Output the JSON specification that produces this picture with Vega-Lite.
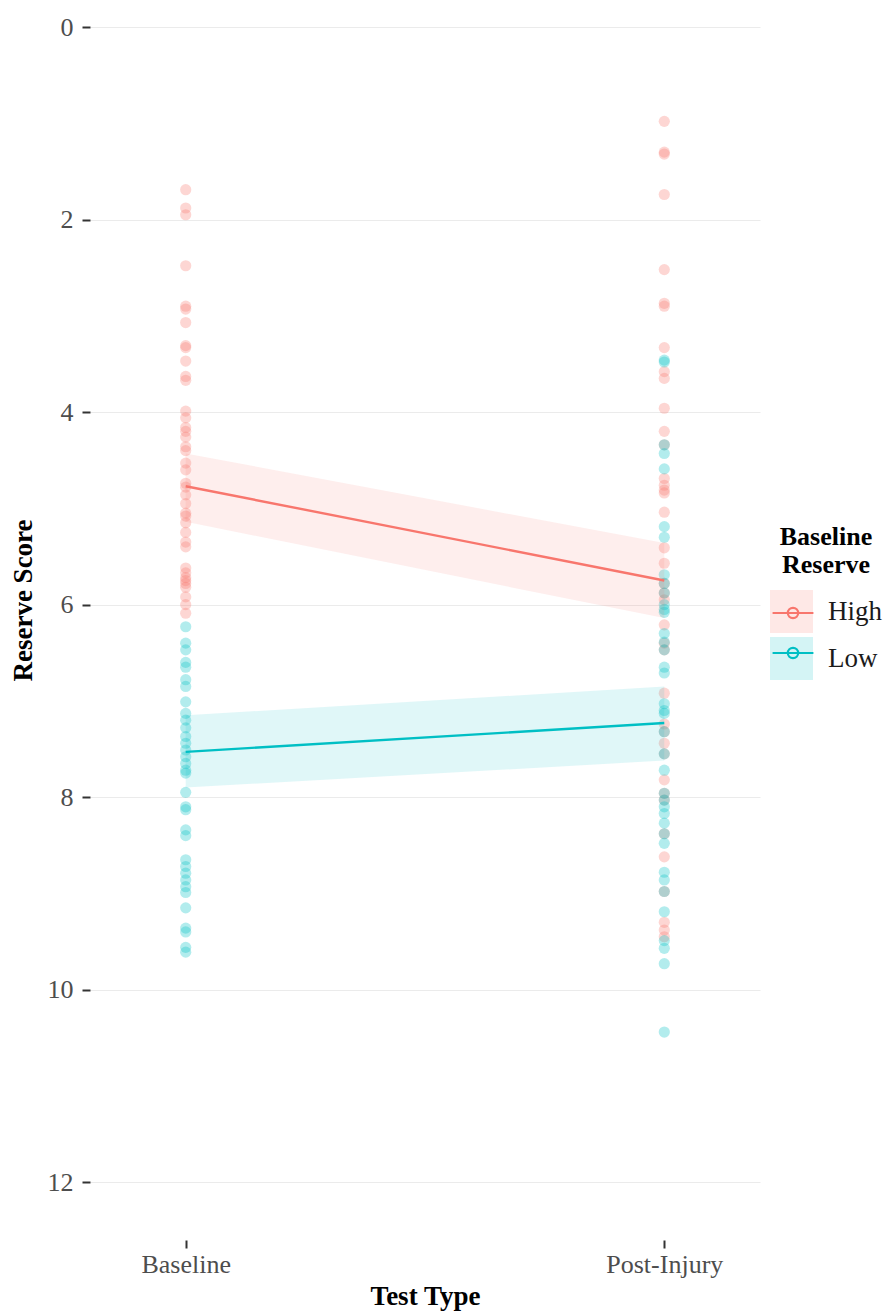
{
  "$schema": "https://vega.github.io/schema/vega-lite/v6.json",
  "width": 670,
  "height": 1213,
  "autosize": {"type": "none"},
  "padding": {"left": 90, "top": 27, "right": 128, "bottom": 75},
  "background": "white",
  "config": {
    "view": {"stroke": null},
    "font": "Liberation Serif",
    "axis": {"domain": false, "tickColor": "#333333", "tickWidth": 2, "tickSize": 8, "labelColor": "#4D4D4D", "labelFontSize": 26, "titleFontSize": 27, "titleFontWeight": "bold", "titleColor": "black", "gridColor": "#EBEBEB", "gridWidth": 1.2}
  },
  "datasets": {
    "pts": [
      {"test": "Baseline", "grp": "High", "score": 1.69},
      {"test": "Baseline", "grp": "High", "score": 1.88},
      {"test": "Baseline", "grp": "High", "score": 1.95},
      {"test": "Baseline", "grp": "High", "score": 2.48},
      {"test": "Baseline", "grp": "High", "score": 2.9},
      {"test": "Baseline", "grp": "High", "score": 2.93},
      {"test": "Baseline", "grp": "High", "score": 3.07},
      {"test": "Baseline", "grp": "High", "score": 3.31},
      {"test": "Baseline", "grp": "High", "score": 3.33},
      {"test": "Baseline", "grp": "High", "score": 3.47},
      {"test": "Baseline", "grp": "High", "score": 3.63},
      {"test": "Baseline", "grp": "High", "score": 3.67},
      {"test": "Baseline", "grp": "High", "score": 3.99},
      {"test": "Baseline", "grp": "High", "score": 4.06},
      {"test": "Baseline", "grp": "High", "score": 4.16},
      {"test": "Baseline", "grp": "High", "score": 4.2},
      {"test": "Baseline", "grp": "High", "score": 4.26},
      {"test": "Baseline", "grp": "High", "score": 4.36},
      {"test": "Baseline", "grp": "High", "score": 4.4},
      {"test": "Baseline", "grp": "High", "score": 4.53},
      {"test": "Baseline", "grp": "High", "score": 4.6},
      {"test": "Baseline", "grp": "High", "score": 4.74},
      {"test": "Baseline", "grp": "High", "score": 4.78},
      {"test": "Baseline", "grp": "High", "score": 4.86},
      {"test": "Baseline", "grp": "High", "score": 4.95},
      {"test": "Baseline", "grp": "High", "score": 5.05},
      {"test": "Baseline", "grp": "High", "score": 5.08},
      {"test": "Baseline", "grp": "High", "score": 5.15},
      {"test": "Baseline", "grp": "High", "score": 5.25},
      {"test": "Baseline", "grp": "High", "score": 5.35},
      {"test": "Baseline", "grp": "High", "score": 5.4},
      {"test": "Baseline", "grp": "High", "score": 5.62},
      {"test": "Baseline", "grp": "High", "score": 5.67},
      {"test": "Baseline", "grp": "High", "score": 5.72},
      {"test": "Baseline", "grp": "High", "score": 5.75},
      {"test": "Baseline", "grp": "High", "score": 5.78},
      {"test": "Baseline", "grp": "High", "score": 5.82},
      {"test": "Baseline", "grp": "High", "score": 5.92},
      {"test": "Baseline", "grp": "High", "score": 6.0},
      {"test": "Baseline", "grp": "High", "score": 6.09},
      {"test": "Baseline", "grp": "Low", "score": 6.23},
      {"test": "Baseline", "grp": "Low", "score": 6.4},
      {"test": "Baseline", "grp": "Low", "score": 6.47},
      {"test": "Baseline", "grp": "Low", "score": 6.6},
      {"test": "Baseline", "grp": "Low", "score": 6.65},
      {"test": "Baseline", "grp": "Low", "score": 6.78},
      {"test": "Baseline", "grp": "Low", "score": 6.85},
      {"test": "Baseline", "grp": "Low", "score": 7.01},
      {"test": "Baseline", "grp": "Low", "score": 7.13},
      {"test": "Baseline", "grp": "Low", "score": 7.2},
      {"test": "Baseline", "grp": "Low", "score": 7.28},
      {"test": "Baseline", "grp": "Low", "score": 7.37},
      {"test": "Baseline", "grp": "Low", "score": 7.44},
      {"test": "Baseline", "grp": "Low", "score": 7.51},
      {"test": "Baseline", "grp": "Low", "score": 7.58},
      {"test": "Baseline", "grp": "Low", "score": 7.65},
      {"test": "Baseline", "grp": "Low", "score": 7.72},
      {"test": "Baseline", "grp": "Low", "score": 7.75},
      {"test": "Baseline", "grp": "Low", "score": 7.95},
      {"test": "Baseline", "grp": "Low", "score": 8.1},
      {"test": "Baseline", "grp": "Low", "score": 8.13},
      {"test": "Baseline", "grp": "Low", "score": 8.34},
      {"test": "Baseline", "grp": "Low", "score": 8.4},
      {"test": "Baseline", "grp": "Low", "score": 8.65},
      {"test": "Baseline", "grp": "Low", "score": 8.72},
      {"test": "Baseline", "grp": "Low", "score": 8.79},
      {"test": "Baseline", "grp": "Low", "score": 8.86},
      {"test": "Baseline", "grp": "Low", "score": 8.93},
      {"test": "Baseline", "grp": "Low", "score": 8.99},
      {"test": "Baseline", "grp": "Low", "score": 9.15},
      {"test": "Baseline", "grp": "Low", "score": 9.36},
      {"test": "Baseline", "grp": "Low", "score": 9.4},
      {"test": "Baseline", "grp": "Low", "score": 9.56},
      {"test": "Baseline", "grp": "Low", "score": 9.61},
      {"test": "Post-Injury", "grp": "High", "score": 0.98},
      {"test": "Post-Injury", "grp": "High", "score": 1.3},
      {"test": "Post-Injury", "grp": "High", "score": 1.32},
      {"test": "Post-Injury", "grp": "High", "score": 1.74},
      {"test": "Post-Injury", "grp": "High", "score": 2.52},
      {"test": "Post-Injury", "grp": "High", "score": 2.87},
      {"test": "Post-Injury", "grp": "High", "score": 2.9},
      {"test": "Post-Injury", "grp": "High", "score": 3.33},
      {"test": "Post-Injury", "grp": "High", "score": 3.58},
      {"test": "Post-Injury", "grp": "High", "score": 3.65},
      {"test": "Post-Injury", "grp": "High", "score": 3.96},
      {"test": "Post-Injury", "grp": "High", "score": 4.2},
      {"test": "Post-Injury", "grp": "High", "score": 4.34},
      {"test": "Post-Injury", "grp": "High", "score": 4.69},
      {"test": "Post-Injury", "grp": "High", "score": 4.76},
      {"test": "Post-Injury", "grp": "High", "score": 4.81},
      {"test": "Post-Injury", "grp": "High", "score": 4.84},
      {"test": "Post-Injury", "grp": "High", "score": 5.04},
      {"test": "Post-Injury", "grp": "High", "score": 5.41},
      {"test": "Post-Injury", "grp": "High", "score": 5.57},
      {"test": "Post-Injury", "grp": "High", "score": 5.78},
      {"test": "Post-Injury", "grp": "High", "score": 5.88},
      {"test": "Post-Injury", "grp": "High", "score": 5.95},
      {"test": "Post-Injury", "grp": "High", "score": 6.21},
      {"test": "Post-Injury", "grp": "High", "score": 6.4},
      {"test": "Post-Injury", "grp": "High", "score": 6.47},
      {"test": "Post-Injury", "grp": "High", "score": 6.92},
      {"test": "Post-Injury", "grp": "High", "score": 7.24},
      {"test": "Post-Injury", "grp": "High", "score": 7.32},
      {"test": "Post-Injury", "grp": "High", "score": 7.44},
      {"test": "Post-Injury", "grp": "High", "score": 7.55},
      {"test": "Post-Injury", "grp": "High", "score": 7.82},
      {"test": "Post-Injury", "grp": "High", "score": 7.96},
      {"test": "Post-Injury", "grp": "High", "score": 8.03},
      {"test": "Post-Injury", "grp": "High", "score": 8.38},
      {"test": "Post-Injury", "grp": "High", "score": 8.62},
      {"test": "Post-Injury", "grp": "High", "score": 8.98},
      {"test": "Post-Injury", "grp": "High", "score": 9.3},
      {"test": "Post-Injury", "grp": "High", "score": 9.38},
      {"test": "Post-Injury", "grp": "High", "score": 9.45},
      {"test": "Post-Injury", "grp": "Low", "score": 3.46},
      {"test": "Post-Injury", "grp": "Low", "score": 3.48},
      {"test": "Post-Injury", "grp": "Low", "score": 4.34},
      {"test": "Post-Injury", "grp": "Low", "score": 4.43},
      {"test": "Post-Injury", "grp": "Low", "score": 4.59},
      {"test": "Post-Injury", "grp": "Low", "score": 5.19},
      {"test": "Post-Injury", "grp": "Low", "score": 5.3},
      {"test": "Post-Injury", "grp": "Low", "score": 5.69},
      {"test": "Post-Injury", "grp": "Low", "score": 5.78},
      {"test": "Post-Injury", "grp": "Low", "score": 5.88},
      {"test": "Post-Injury", "grp": "Low", "score": 6.0},
      {"test": "Post-Injury", "grp": "Low", "score": 6.05},
      {"test": "Post-Injury", "grp": "Low", "score": 6.08},
      {"test": "Post-Injury", "grp": "Low", "score": 6.3},
      {"test": "Post-Injury", "grp": "Low", "score": 6.39},
      {"test": "Post-Injury", "grp": "Low", "score": 6.47},
      {"test": "Post-Injury", "grp": "Low", "score": 6.65},
      {"test": "Post-Injury", "grp": "Low", "score": 6.71},
      {"test": "Post-Injury", "grp": "Low", "score": 7.03},
      {"test": "Post-Injury", "grp": "Low", "score": 7.1},
      {"test": "Post-Injury", "grp": "Low", "score": 7.13},
      {"test": "Post-Injury", "grp": "Low", "score": 7.32},
      {"test": "Post-Injury", "grp": "Low", "score": 7.55},
      {"test": "Post-Injury", "grp": "Low", "score": 7.72},
      {"test": "Post-Injury", "grp": "Low", "score": 7.96},
      {"test": "Post-Injury", "grp": "Low", "score": 8.03},
      {"test": "Post-Injury", "grp": "Low", "score": 8.1},
      {"test": "Post-Injury", "grp": "Low", "score": 8.17},
      {"test": "Post-Injury", "grp": "Low", "score": 8.27},
      {"test": "Post-Injury", "grp": "Low", "score": 8.38},
      {"test": "Post-Injury", "grp": "Low", "score": 8.48},
      {"test": "Post-Injury", "grp": "Low", "score": 8.78},
      {"test": "Post-Injury", "grp": "Low", "score": 8.86},
      {"test": "Post-Injury", "grp": "Low", "score": 8.98},
      {"test": "Post-Injury", "grp": "Low", "score": 9.19},
      {"test": "Post-Injury", "grp": "Low", "score": 9.49},
      {"test": "Post-Injury", "grp": "Low", "score": 9.57},
      {"test": "Post-Injury", "grp": "Low", "score": 9.73},
      {"test": "Post-Injury", "grp": "Low", "score": 10.44}
    ],
    "fit": [
      {"test": "Baseline", "grp": "High", "key": "High", "fit": 4.77, "lo": 4.43, "hi": 5.14},
      {"test": "Post-Injury", "grp": "High", "key": "High", "fit": 5.75, "lo": 5.36, "hi": 6.14},
      {"test": "Baseline", "grp": "Low", "key": "Low", "fit": 7.53, "lo": 7.15, "hi": 7.9},
      {"test": "Post-Injury", "grp": "Low", "key": "Low", "fit": 7.23, "lo": 6.85, "hi": 7.62}
    ]
  },
  "layer": [
    {
      "data": {"name": "pts"},
      "mark": {"type": "point", "filled": true, "size": 125, "opacity": 0.3},
      "encoding": {
        "x": {"field": "test", "type": "nominal", "title": "Test Type",
              "scale": {"type": "point", "padding": 0.2, "domain": ["Baseline", "Post-Injury"]},
              "axis": {"labelAngle": 0, "grid": false, "labelPadding": 3, "titlePadding": 6}},
        "y": {"field": "score", "type": "quantitative", "title": "Reserve Score",
              "scale": {"domain": [0, 12.6], "reverse": true, "nice": false, "zero": false},
              "axis": {"values": [0, 2, 4, 6, 8, 10, 12], "format": "d", "grid": true, "labelPadding": 9, "titlePadding": 10, "titleY": 573}},
        "color": {"field": "grp", "type": "nominal", "scale": {"range": ["#F8766D", "#00BFC4"]}, "legend": null}
      }
    },
    {
      "data": {"name": "fit"},
      "mark": {"type": "area", "fillOpacity": 0.12},
      "encoding": {
        "x": {"field": "test", "type": "nominal"},
        "y": {"field": "lo", "type": "quantitative"},
        "y2": {"field": "hi"},
        "fill": {"field": "grp", "type": "nominal",
                 "scale": {"range": ["#F8766D", "#00BFC4"]},
                 "legend": {"orient": "none", "legendX": 680, "legendY": 497, "title": ["Baseline", "Reserve"],
                            "titleFontSize": 26, "titleFontWeight": "bold", "titleColor": "black", "titleLineHeight": 28,
                            "titleAnchor": "middle", "titleAlign": "center", "titlePadding": 12,
                            "symbolType": "square", "symbolSize": 1849, "symbolStrokeWidth": 0, "symbolOpacity": 0.17,
                            "labelFontSize": 27, "labelColor": "#1A1A1A", "labelOffset": 15, "rowPadding": 4}}
      }
    },
    {
      "data": {"name": "fit"},
      "mark": {"type": "line", "strokeWidth": 2.4},
      "encoding": {
        "x": {"field": "test", "type": "nominal"},
        "y": {"field": "fit", "type": "quantitative"},
        "stroke": {"field": "key", "type": "nominal",
                   "scale": {"range": ["#F8766D", "#00BFC4"]},
                   "legend": {"orient": "none", "legendX": 680, "legendY": 563, "title": null,
                              "symbolType": "M-0.95,0H0.95M0.24,0A0.24,0.24,0,1,1,-0.24,0A0.24,0.24,0,1,1,0.24,0",
                              "symbolSize": 1849, "symbolStrokeWidth": 2.2, "symbolFillColor": "transparent",
                              "labelExpr": "''", "labelFontSize": 27, "labelOffset": 15, "rowPadding": 4}}
      }
    }
  ]
}
